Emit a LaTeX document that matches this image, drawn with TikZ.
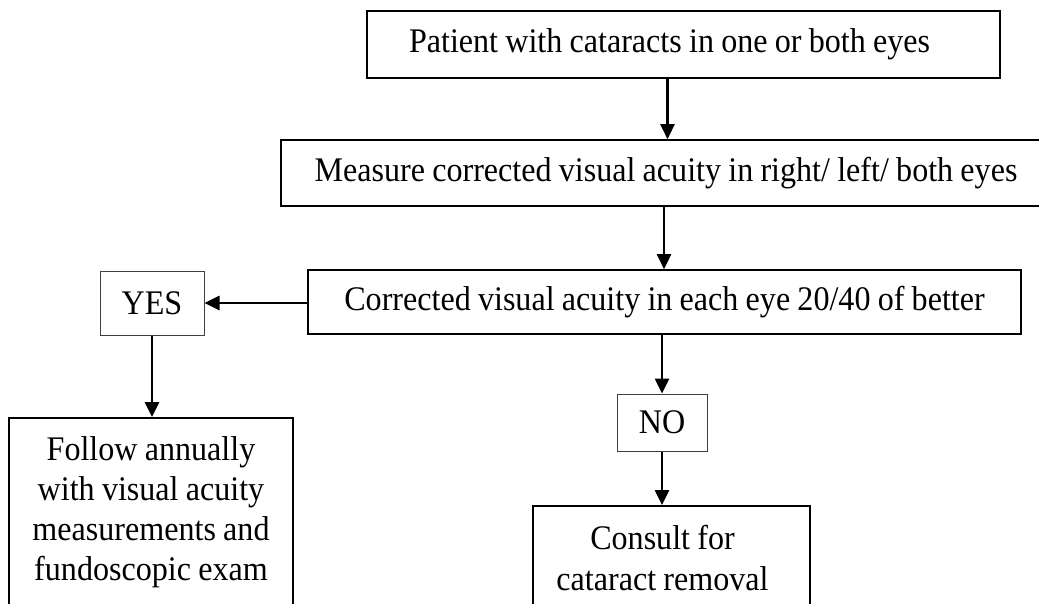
\documentclass[tikz,border=0pt]{standalone}
\usepackage{fontspec}
\setmainfont{Liberation Serif}[FakeStretch=0.93, WordSpace=0.9]
\usetikzlibrary{positioning, arrows.meta, calc}

\begin{document}
\begin{tikzpicture}[x=1pt, y=-1pt,
  box/.style={draw, line width=1.6pt, inner sep=0pt, font=\fontsize{34.5}{40}\selectfont},
  answer/.style={draw=black!75, line width=1pt, inner sep=0pt, font=\fontsize{34.5}{40}\selectfont},
  flow/.style={-{Triangle[length=15pt, width=14pt]}, line width=2.6pt}]
\useasboundingbox (0,0) rectangle (1039,604);
\clip (0,0) rectangle (1039,604);

% Main column
\node[box, minimum width=633pt, minimum height=67pt] (patient) at (683.5, 44.5) {Patient with cataracts in one or both eyes\hspace*{28pt}};
\node[box, minimum width=770pt, minimum height=66pt] (measure) at (666, 173) {Measure corrected visual acuity in right/ left/ both eyes};
\node[box, minimum width=713pt, minimum height=64pt] (check) at (664.5, 302) {Corrected visual acuity in each eye 20/40 of better};

% Answers
\node[answer, minimum width=104pt, minimum height=64pt] (yes) at (152, 303) {YES};
\node[answer, minimum width=90pt, minimum height=57pt] (no) at (662, 422.5) {NO};

% Outcomes
\node[box, anchor=north, text width=284pt, align=flush center, inner ysep=19pt] (follow) at (151, 417)
  {Follow annually\\with visual acuity\\measurements and\\fundoscopic exam};
\node[box, anchor=north, text width=277pt, align=flush center, inner ysep=19pt, minimum height=140pt] (consult) at (671.5, 505)
  {\hspace*{-18pt}Consult for\\[1pt]\hspace*{-18pt}cataract removal\\[1pt]\strut};

% Arrows
\coordinate (p1) at ($(patient.south)+(-16,0)$);
\coordinate (m1) at ($(measure.south)+(-2,0)$);
\draw[flow] (p1) -- (p1 |- measure.north);
\draw[flow] (m1) -- (m1 |- check.north);
\draw[flow] (check.west |- yes.east) -- (yes.east);
\draw[flow] (yes.south) -- (yes.south |- follow.north);
\draw[flow] (check.south -| no.north) -- (no.north);
\draw[flow] (no.south) -- (no.south |- consult.north);
\end{tikzpicture}
\end{document}
